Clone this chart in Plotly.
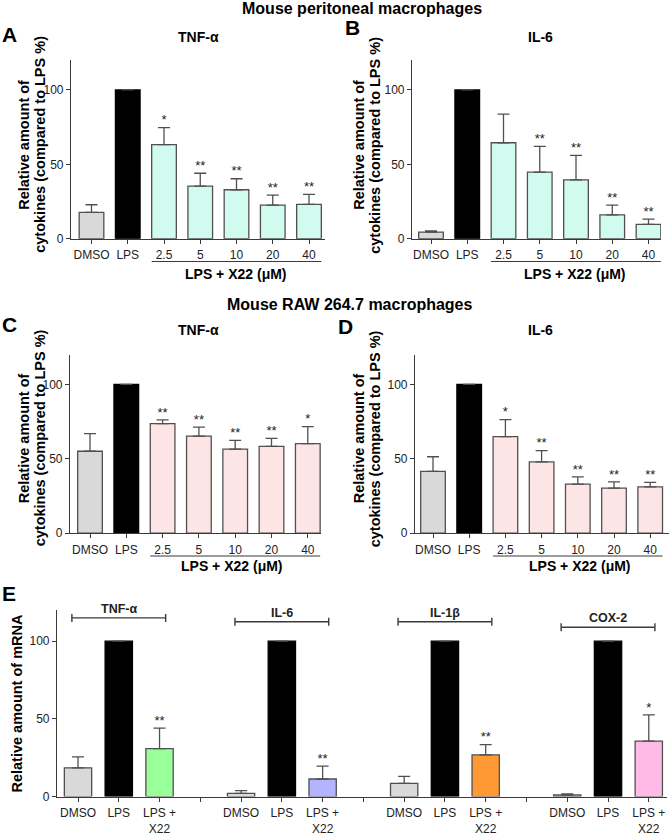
import plotly.graph_objects as go

W, H = 670, 836
FONT = "Liberation Sans, Arial, Helvetica, sans-serif"

# ---------------- data ----------------
cyt_categories = ["DMSO", "LPS", "2.5", "5", "10", "20", "40"]

A_tnf_mean = [17.7, 100, 63.3, 35.3, 32.9, 22.5, 23.1]
A_tnf_err = [5.1, 0, 11.4, 8.7, 7.4, 6.8, 6.7]
A_tnf_sig = ["", "", "*", "**", "**", "**", "**"]

B_il6_mean = [4.4, 100, 64.5, 44.7, 39.6, 16.0, 9.6]
B_il6_err = [0.9, 0, 19.3, 17.3, 16.4, 6.5, 3.5]
B_il6_sig = ["", "", "", "**", "**", "**", "**"]

C_tnf_mean = [55.1, 100, 73.7, 65.3, 56.5, 58.4, 60.2]
C_tnf_err = [11.9, 0, 2.5, 6.0, 5.9, 5.3, 11.5]
C_tnf_sig = ["", "", "**", "**", "**", "**", "*"]

D_il6_mean = [41.6, 100, 64.9, 48.0, 33.0, 30.3, 31.2]
D_il6_err = [9.8, 0, 11.5, 7.5, 4.8, 4.2, 2.9]
D_il6_sig = ["", "", "*", "**", "**", "**", "**"]

mrna_genes = ["TNF-α", "IL-6", "IL-1β", "COX-2"]
mrna_conditions = ["DMSO", "LPS", "LPS +<br>X22"]
E_tnf_mean = [18.5, 100, 30.9]
E_tnf_err = [7.0, 0, 13.1]
E_il6_mean = [2.1, 100, 11.3]
E_il6_err = [1.7, 0, 8.3]
E_il1b_mean = [8.5, 100, 26.8]
E_il1b_err = [4.5, 0, 6.6]
E_cox2_mean = [1.0, 100, 35.7]
E_cox2_err = [0.7, 0, 16.9]
E_sig = [["", "", "**"], ["", "", "**"], ["", "", "**"], ["", "", "*"]]

# ---------------- style ----------------
GREY = "#d9d9d9"
BLACK = "#000000"
MINT = "#d2fbf0"
PINK = "#fde5e5"
E_TREAT_COLORS = ["#99ff99", "#b3b3ff", "#ff9933", "#ffbbe6"]
EDGE = "#505050"
AXIS = "#3a3a3a"
TXT = "#222222"


def px(x):
    return x / W


def py(y):
    return 1 - y / H


fig = go.Figure()

panels = [
    dict(n=1, mean=A_tnf_mean, err=A_tnf_err, sig=A_tnf_sig, treat=MINT,
         x0=71, x1=325, xc0=91.5, dx=36.25, ybot=240.7),
    dict(n=2, mean=B_il6_mean, err=B_il6_err, sig=B_il6_sig, treat=MINT,
         x0=412, x1=661, xc0=431, dx=36.25, ybot=240.7),
    dict(n=3, mean=C_tnf_mean, err=C_tnf_err, sig=C_tnf_sig, treat=PINK,
         x0=70, x1=321, xc0=90, dx=36.3, ybot=537.7),
    dict(n=4, mean=D_il6_mean, err=D_il6_err, sig=D_il6_sig, treat=PINK,
         x0=415, x1=669, xc0=433, dx=36.2, ybot=537.7),
]

BW = 0.68
layout_axes = {}
shapes = []
annotations = []

for p in panels:
    n = p["n"]
    xa = "x" if n == 1 else f"x{n}"
    ya = "y" if n == 1 else f"y{n}"
    colors = [GREY, BLACK] + [p["treat"]] * 5
    lines = [EDGE, BLACK] + [EDGE] * 5
    fig.add_trace(go.Bar(
        x=cyt_categories, y=p["mean"], width=BW,
        marker=dict(color=colors, line=dict(color=lines, width=1.3)),
        error_y=dict(type="data", array=p["err"], arrayminus=[0] * 7,
                     symmetric=False, color=EDGE, thickness=1.3, width=6),
        xaxis=xa, yaxis=ya, showlegend=False,
    ))
    tops = [m + e for m, e in zip(p["mean"], p["err"])]
    fig.add_trace(go.Scatter(
        x=cyt_categories, y=tops, text=p["sig"], mode="text",
        textposition="top center", textfont=dict(size=13, color=TXT, family=FONT),
        xaxis=xa, yaxis=ya, showlegend=False, cliponaxis=False,
    ))
    r0 = (p["x0"] - p["xc0"]) / p["dx"]
    r1 = 6 + (p["x1"] - (p["xc0"] + 6 * p["dx"])) / p["dx"]
    sfx = "" if n == 1 else str(n)
    layout_axes["xaxis" + sfx] = dict(
        domain=[px(p["x0"]), px(p["x1"])], anchor=ya, type="category",
        range=[r0, r1], showline=True, linecolor=AXIS, linewidth=1.2,
        ticks="outside", ticklen=4, tickcolor=AXIS, tickwidth=1.2, ticklabelstandoff=1,
        tickfont=dict(size=12, color=TXT, family=FONT), showgrid=False, zeroline=False,
        fixedrange=True,
    )
    layout_axes["yaxis" + sfx] = dict(
        domain=[py(p["ybot"]), py(p["ybot"] - 180)], anchor=xa, range=[0, 120],
        tickvals=[0, 50, 100], showline=True, linecolor=AXIS, linewidth=1.2,
        ticks="outside", ticklen=4, tickcolor=AXIS, tickwidth=1.2,
        tickfont=dict(size=12, color=TXT, family=FONT), showgrid=False, zeroline=False,
    )
    # underline for treatment group
    uy = p["ybot"] + 23
    shapes.append(dict(type="line", xref=xa, yref="paper", x0=2 - BW / 2, x1=6 + BW / 2,
                       y0=py(uy), y1=py(uy), line=dict(color=AXIS, width=1.2)))

# ---------------- panel E ----------------
E_means = [E_tnf_mean, E_il6_mean, E_il1b_mean, E_cox2_mean]
E_errs = [E_tnf_err, E_il6_err, E_il1b_err, E_cox2_err]
ex, ey, ee, ec, el, es = [], [], [], [], [], []
tickvals, ticktext = [], []
for g, gene in enumerate(mrna_genes):
    for j, cond in enumerate(mrna_conditions):
        pos = g * 4 + j
        ex.append(pos)
        ey.append(E_means[g][j])
        ee.append(E_errs[g][j])
        ec.append([GREY, BLACK, E_TREAT_COLORS[g]][j])
        el.append([EDGE, BLACK, EDGE][j])
        es.append(E_sig[g][j])
        tickvals.append(pos)
        ticktext.append(cond)
    if g < len(mrna_genes) - 1:
        tickvals.append(g * 4 + 3)
        ticktext.append("")

EBW = 0.67
fig.add_trace(go.Bar(
    x=ex, y=ey, width=EBW,
    marker=dict(color=ec, line=dict(color=el, width=1.3)),
    error_y=dict(type="data", array=ee, arrayminus=[0] * len(ee), symmetric=False,
                 color=EDGE, thickness=1.3, width=6),
    xaxis="x5", yaxis="y5", showlegend=False,
))
fig.add_trace(go.Scatter(
    x=ex, y=[m + e for m, e in zip(ey, ee)], text=es, mode="text",
    textposition="top center", textfont=dict(size=13, color=TXT, family=FONT),
    xaxis="x5", yaxis="y5", showlegend=False, cliponaxis=False,
))
E_x0, E_x1, E_xc0, E_dx, E_ybot = 57, 667, 78, 40.77, 803.3
layout_axes["xaxis5"] = dict(
    domain=[px(E_x0), px(E_x1)], anchor="y5",
    range=[(E_x0 - E_xc0) / E_dx, 14 + (E_x1 - (E_xc0 + 14 * E_dx)) / E_dx],
    tickvals=tickvals, ticktext=ticktext, showline=True, linecolor=AXIS, linewidth=1.2,
    ticks="outside", ticklen=4, tickcolor=AXIS, tickwidth=1.2, ticklabelstandoff=1,
    tickfont=dict(size=12, color=TXT, family=FONT), showgrid=False, zeroline=False,
)
layout_axes["yaxis5"] = dict(
    domain=[py(E_ybot), py(E_ybot - 188)], anchor="x5", range=[0, 120],
    tickvals=[0, 50, 100], showline=True, linecolor=AXIS, linewidth=1.2,
    ticks="outside", ticklen=4, tickcolor=AXIS, tickwidth=1.2,
    tickfont=dict(size=12, color=TXT, family=FONT), showgrid=False, zeroline=False,
)

bracket_levels = [115, 112.5, 112.5, 109]
for g, gene in enumerate(mrna_genes):
    bx0, bx1, lev = g * 4 - 0.15, g * 4 + 2.15, bracket_levels[g]
    shapes.append(dict(type="line", xref="x5", yref="y5", x0=bx0, x1=bx1, y0=lev, y1=lev,
                       line=dict(color=AXIS, width=1.4)))
    for bx in (bx0, bx1):
        shapes.append(dict(type="line", xref="x5", yref="y5", x0=bx, x1=bx,
                           y0=lev - 2.6, y1=lev + 2.6, line=dict(color=AXIS, width=1.4)))
    annotations.append(dict(x=g * 4 + 1, y=lev, xref="x5", yref="y5", yshift=9,
                            text=f"<b>{gene}</b>", showarrow=False, xanchor="center",
                            yanchor="middle", font=dict(size=12.5, color=TXT, family=FONT)))


def txt(x, y, s, size, angle=0):
    annotations.append(dict(x=px(x), y=py(y), xref="paper", yref="paper", text=s,
                            showarrow=False, xanchor="center", yanchor="middle",
                            textangle=angle, font=dict(size=size, color="#000", family=FONT)))


# super titles
txt(362, 8.5, "<b>Mouse peritoneal macrophages</b>", 16)
txt(350, 306.7, "<b>Mouse RAW 264.7 macrophages</b>", 16)
# panel letters
txt(9.5, 34.5, "<b>A</b>", 21)
txt(352, 27.5, "<b>B</b>", 21)
txt(9, 327.5, "<b>C</b>", 21)
txt(345, 329.5, "<b>D</b>", 21)
txt(9, 599, "<b>E</b>", 21)
# subplot titles
txt(198.5, 37, "<b>TNF-α</b>", 14)
txt(540, 37, "<b>IL-6</b>", 14)
txt(198.5, 333, "<b>TNF-α</b>", 14)
txt(540, 333, "<b>IL-6</b>", 14)
# y-axis titles (two lines each)
yt1 = "<b>Relative amount of</b>"
yt2 = "<b>cytokines (compared to LPS %)</b>"
for (xl, yc) in [(24, 146), (359, 146), (24, 442), (359, 442)]:
    txt(xl, yc, yt1, 14.5, -90)
    txt(xl + 16, yc, yt2, 14.5, -90)
txt(17.5, 709, "<b>Relative amount of mRNA</b>", 14.5, -90)
# treatment group labels
grp = "<b>LPS + X22 (μM)</b>"
txt(236, 276, grp, 14)
txt(575, 276, grp, 14)
txt(232, 571, grp, 14)
txt(580, 571, grp, 14)

fig.update_layout(
    width=W, height=H, margin=dict(l=0, r=0, t=0, b=0),
    paper_bgcolor="white", plot_bgcolor="white",
    font=dict(family=FONT, color=TXT),
    shapes=shapes, annotations=annotations, bargap=0.3,
    **layout_axes,
)

fig.write_html("out.html", config={"displayModeBar": False},
               post_script="document.body.style.margin='0';document.body.style.overflow='hidden';")
